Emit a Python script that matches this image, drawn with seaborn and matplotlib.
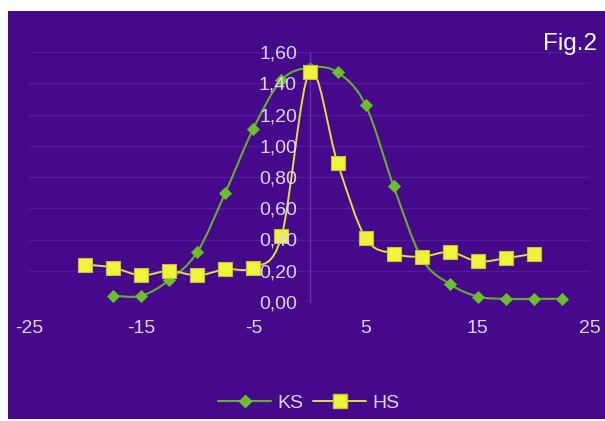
import matplotlib
matplotlib.use("Agg")
import matplotlib.pyplot as plt
import seaborn as sns
from matplotlib.path import Path
from matplotlib.patches import PathPatch, Rectangle
from matplotlib.lines import Line2D

# ---- data -------------------------------------------------------------
ks_x = [-17.5, -15, -12.5, -10, -7.5, -5, -2.5, 0, 2.5, 5, 7.5, 10, 12.5, 15, 17.5, 20, 22.5]
ks_y = [0.04, 0.04, 0.14, 0.32, 0.70, 1.11, 1.42, 1.50, 1.47, 1.26, 0.74, 0.28, 0.115, 0.035, 0.02, 0.02, 0.02]

hs_x = [-20, -17.5, -15, -12.5, -10, -7.5, -5, -2.5, 0, 2.5, 5, 7.5, 10, 12.5, 15, 17.5, 20]
hs_y = [0.24, 0.22, 0.17, 0.20, 0.17, 0.21, 0.22, 0.42, 1.47, 0.89, 0.41, 0.31, 0.29, 0.32, 0.26, 0.28, 0.31]

series_names = ["KS", "HS"]
x_ticks = [-25, -15, -5, 5, 15, 25]
y_ticks = [0.0, 0.2, 0.4, 0.6, 0.8, 1.0, 1.2, 1.4, 1.6]
y_tick_labels = ["0,00", "0,20", "0,40", "0,60", "0,80", "1,00", "1,20", "1,40", "1,60"]
title_text = "Fig.2"

# ---- style ------------------------------------------------------------
sns.set_style("white")
plt.rcParams["font.family"] = ["Liberation Sans", "DejaVu Sans"]

BG = "#46098C"
GRID = "#521a9a"
AXIS = "#6034ab"
TEXT = "#ddd5f0"
GREEN_LINE = "#66ad2e"
GREEN_MARK = "#6cbf2c"
YELLOW_LINE = "#dede48"
YELLOW_MARK = "#eef43a"
YELLOW_EDGE = "#c4c232"

W, H = 605, 421
fig = plt.figure(figsize=(W / 100, H / 100), dpi=100)
fig.patch.set_facecolor("white")
fig.patches.append(Rectangle((8 / W, 2 / H), 1 - 8 / W, 1 - 13 / H,
                             transform=fig.transFigure, facecolor=BG,
                             edgecolor="none", zorder=-10))

ax = fig.add_axes([29 / W, (H - 302) / H, (590 - 29) / W, 250 / H])
ax.patch.set_alpha(0)
ax.set_xlim(-25, 25)
ax.set_ylim(0, 1.6)

# horizontal gridlines
for yv in y_ticks[1:]:
    ax.axhline(yv, color=GRID, lw=1.0, zorder=0.5)
ax.axhline(0, color="#5b2aa6", lw=1.0, zorder=0.6)

# axes: vertical axis through x = 0
for s in ["top", "right", "bottom"]:
    ax.spines[s].set_visible(False)
ax.spines["left"].set_position(("data", 0))
ax.spines["left"].set_color(AXIS)
ax.spines["left"].set_linewidth(1.0)

ax.set_xticks(x_ticks)
ax.set_xticklabels([str(v) for v in x_ticks])
ax.set_yticks(y_ticks)
ax.set_yticklabels(y_tick_labels)
ax.tick_params(axis="x", length=0, pad=13, labelsize=14, labelcolor=TEXT)
ax.tick_params(axis="y", length=4, width=1.0, color=AXIS, direction="out",
               pad=5, labelsize=14, labelcolor=TEXT)
ax.yaxis.set_zorder(10)
ax.xaxis.set_zorder(10)


def smooth_path(xs, ys):
    """Cubic Bezier path through the points (Catmull-Rom style tangents)."""
    pts = list(zip(xs, ys))
    n = len(pts)
    verts = [pts[0]]
    codes = [Path.MOVETO]
    for i in range(n - 1):
        p0 = pts[i - 1] if i > 0 else pts[i]
        p1 = pts[i]
        p2 = pts[i + 1]
        p3 = pts[i + 2] if i + 2 < n else pts[i + 1]
        c1 = (p1[0] + (p2[0] - p0[0]) / 6, p1[1] + (p2[1] - p0[1]) / 6)
        c2 = (p2[0] - (p3[0] - p1[0]) / 6, p2[1] - (p3[1] - p1[1]) / 6)
        verts += [c1, c2, p2]
        codes += [Path.CURVE4] * 3
    return Path(verts, codes)


ax.add_patch(PathPatch(smooth_path(ks_x, ks_y), fill=False, edgecolor=GREEN_LINE,
                       lw=1.5, transform=ax.transData, zorder=2, clip_on=False))
ax.add_patch(PathPatch(smooth_path(hs_x, hs_y), fill=False, edgecolor=YELLOW_LINE,
                       lw=1.4, transform=ax.transData, zorder=3, clip_on=False))

sns.scatterplot(x=ks_x, y=ks_y, marker="D", s=38, color=GREEN_MARK,
                edgecolor=GREEN_MARK, linewidth=0.5, ax=ax, zorder=2.5,
                clip_on=False, legend=False)
sns.scatterplot(x=hs_x, y=hs_y, marker="s", s=90, color=YELLOW_MARK,
                edgecolor=YELLOW_EDGE, linewidth=0.8, ax=ax, zorder=3.5,
                clip_on=False, legend=False)

ax.set_xlabel("")
ax.set_ylabel("")

# legend
handles = [
    Line2D([], [], color=GREEN_LINE, lw=1.5, marker="D", markersize=6.2,
           markerfacecolor=GREEN_MARK, markeredgecolor=GREEN_MARK),
    Line2D([], [], color=YELLOW_LINE, lw=1.4, marker="s", markersize=9.4,
           markerfacecolor=YELLOW_MARK, markeredgecolor=YELLOW_EDGE),
]
fig.legend(handles, series_names, loc="center", bbox_to_anchor=(309 / W, 1 - 403 / H),
           ncol=2, frameon=False, fontsize=14, handlelength=2.7,
           handletextpad=0.35, columnspacing=0.5, labelcolor=TEXT)

fig.text(597 / W, 1 - 50 / H, title_text, ha="right", va="baseline",
         fontsize=17.5, color="white")

fig.savefig("out.png", dpi=100, facecolor=fig.get_facecolor())
